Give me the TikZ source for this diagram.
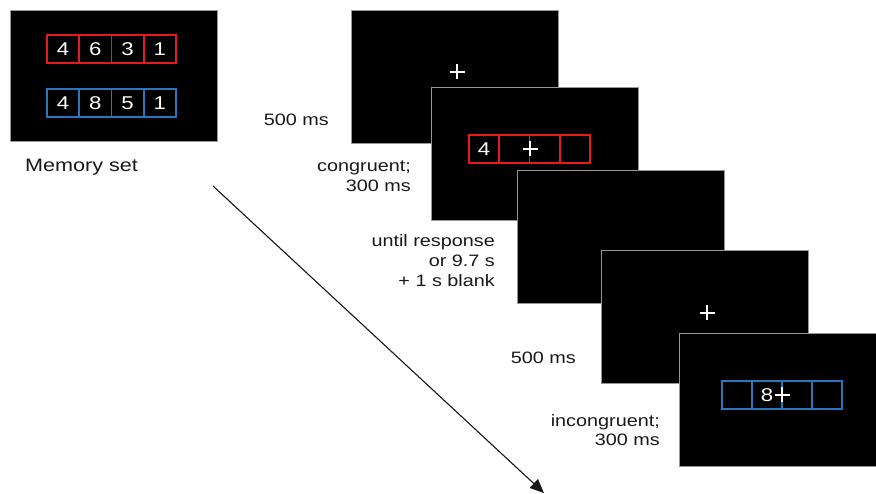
\documentclass[tikz,border=0pt]{standalone}
\usepackage{fontspec}
\setmainfont[FakeStretch=1.2]{Liberation Sans}
\usetikzlibrary{arrows.meta}
\definecolor{stimred}{RGB}{228,28,28}
\definecolor{stimblue}{RGB}{40,118,190}
\definecolor{edgegray}{RGB}{150,150,150}
\definecolor{inkgray}{RGB}{25,25,25}
\begin{document}
\begin{tikzpicture}[x=1pt,y=-1pt,
  screen/.style={fill=black, draw=edgegray, line width=0.8pt, anchor=north west,
    minimum width=207pt, minimum height=133pt, inner sep=0pt},
  cellbase/.style={line width=1.8pt, minimum height=28pt, inner sep=0pt,
    text=white, font=\fontsize{18.5}{20}\selectfont},
  cellr/.style={cellbase, draw=stimred},
  cellb/.style={cellbase, draw=stimblue},
  lbl/.style={text=inkgray, font=\fontsize{16.5}{20}\selectfont, inner sep=0pt, align=right, anchor=base east},
  fixcross/.pic={\draw[white, line width=1.6pt] (-7.5,0) -- (7.5,0) (0,-7.5) -- (0,7.5);}
]
\useasboundingbox (0,0) rectangle (876,494);
\fill[white] (0,0) rectangle (876,494);

% memory set screen
\node[screen, minimum height=131pt] (mem) at (10,10) {};
\foreach \d [count=\i] in {4,6,3,1}
  \node[cellr, minimum width=32.25pt] (mr\i) at ({47+32.25*(\i-0.5)},49) {\d};
\foreach \d [count=\i] in {4,8,5,1}
  \node[cellb, minimum width=32.25pt] (mb\i) at ({47+32.25*(\i-0.5)},103) {\d};
\node[text=inkgray, font=\fontsize{18}{21}\selectfont, inner sep=0pt, anchor=base west] (memlbl) at (25,171.5) {Memory set};

% trial screens
\node[screen] (s1) at (351,10) {};
\node[screen] (s2) at (431,87.5) {};
\node[screen] (s3) at (517,170) {};
\node[screen] (s4) at (601,250) {};
\node[screen] (s5) at (679,333) {};

% screen 1 fixation
\pic at (457,72) {fixcross};

% screen 2 congruent probe
\foreach \d [count=\i] in {4,{},{},{}}
  \node[cellr, minimum width=30.25pt] (pr\i) at ({469+30.25*(\i-0.5)},149) {\d};
\pic at (530,149) {fixcross};

% screen 4 fixation
\pic at (707,313) {fixcross};

% screen 5 incongruent probe
\foreach \d [count=\i] in {{},8,{},{}}
  \node[cellb, minimum width=30pt] (pb\i) at ({722+30*(\i-0.5)},395) {\d};
\pic at (782,395) {fixcross};

% labels (anchor = baseline of last line)
\node[lbl] (l1) at (329,126) {500 ms};
\node[lbl] (l2) at (411,192) {congruent;\\300 ms};
\node[lbl] (l3) at (495,287) {until response\\or 9.7 s\\+ 1 s blank};
\node[lbl] (l4) at (576,363) {500 ms};
\node[lbl] (l5) at (660,446) {incongruent;\\300 ms};

% time arrow
\coordinate (a0) at (213,186);
\coordinate (a1) at (544,493);
\draw[-{Triangle[length=14pt,width=12pt]}, line width=1.1pt, draw=inkgray, fill=inkgray] (a0) -- (a1);
\end{tikzpicture}
\end{document}
